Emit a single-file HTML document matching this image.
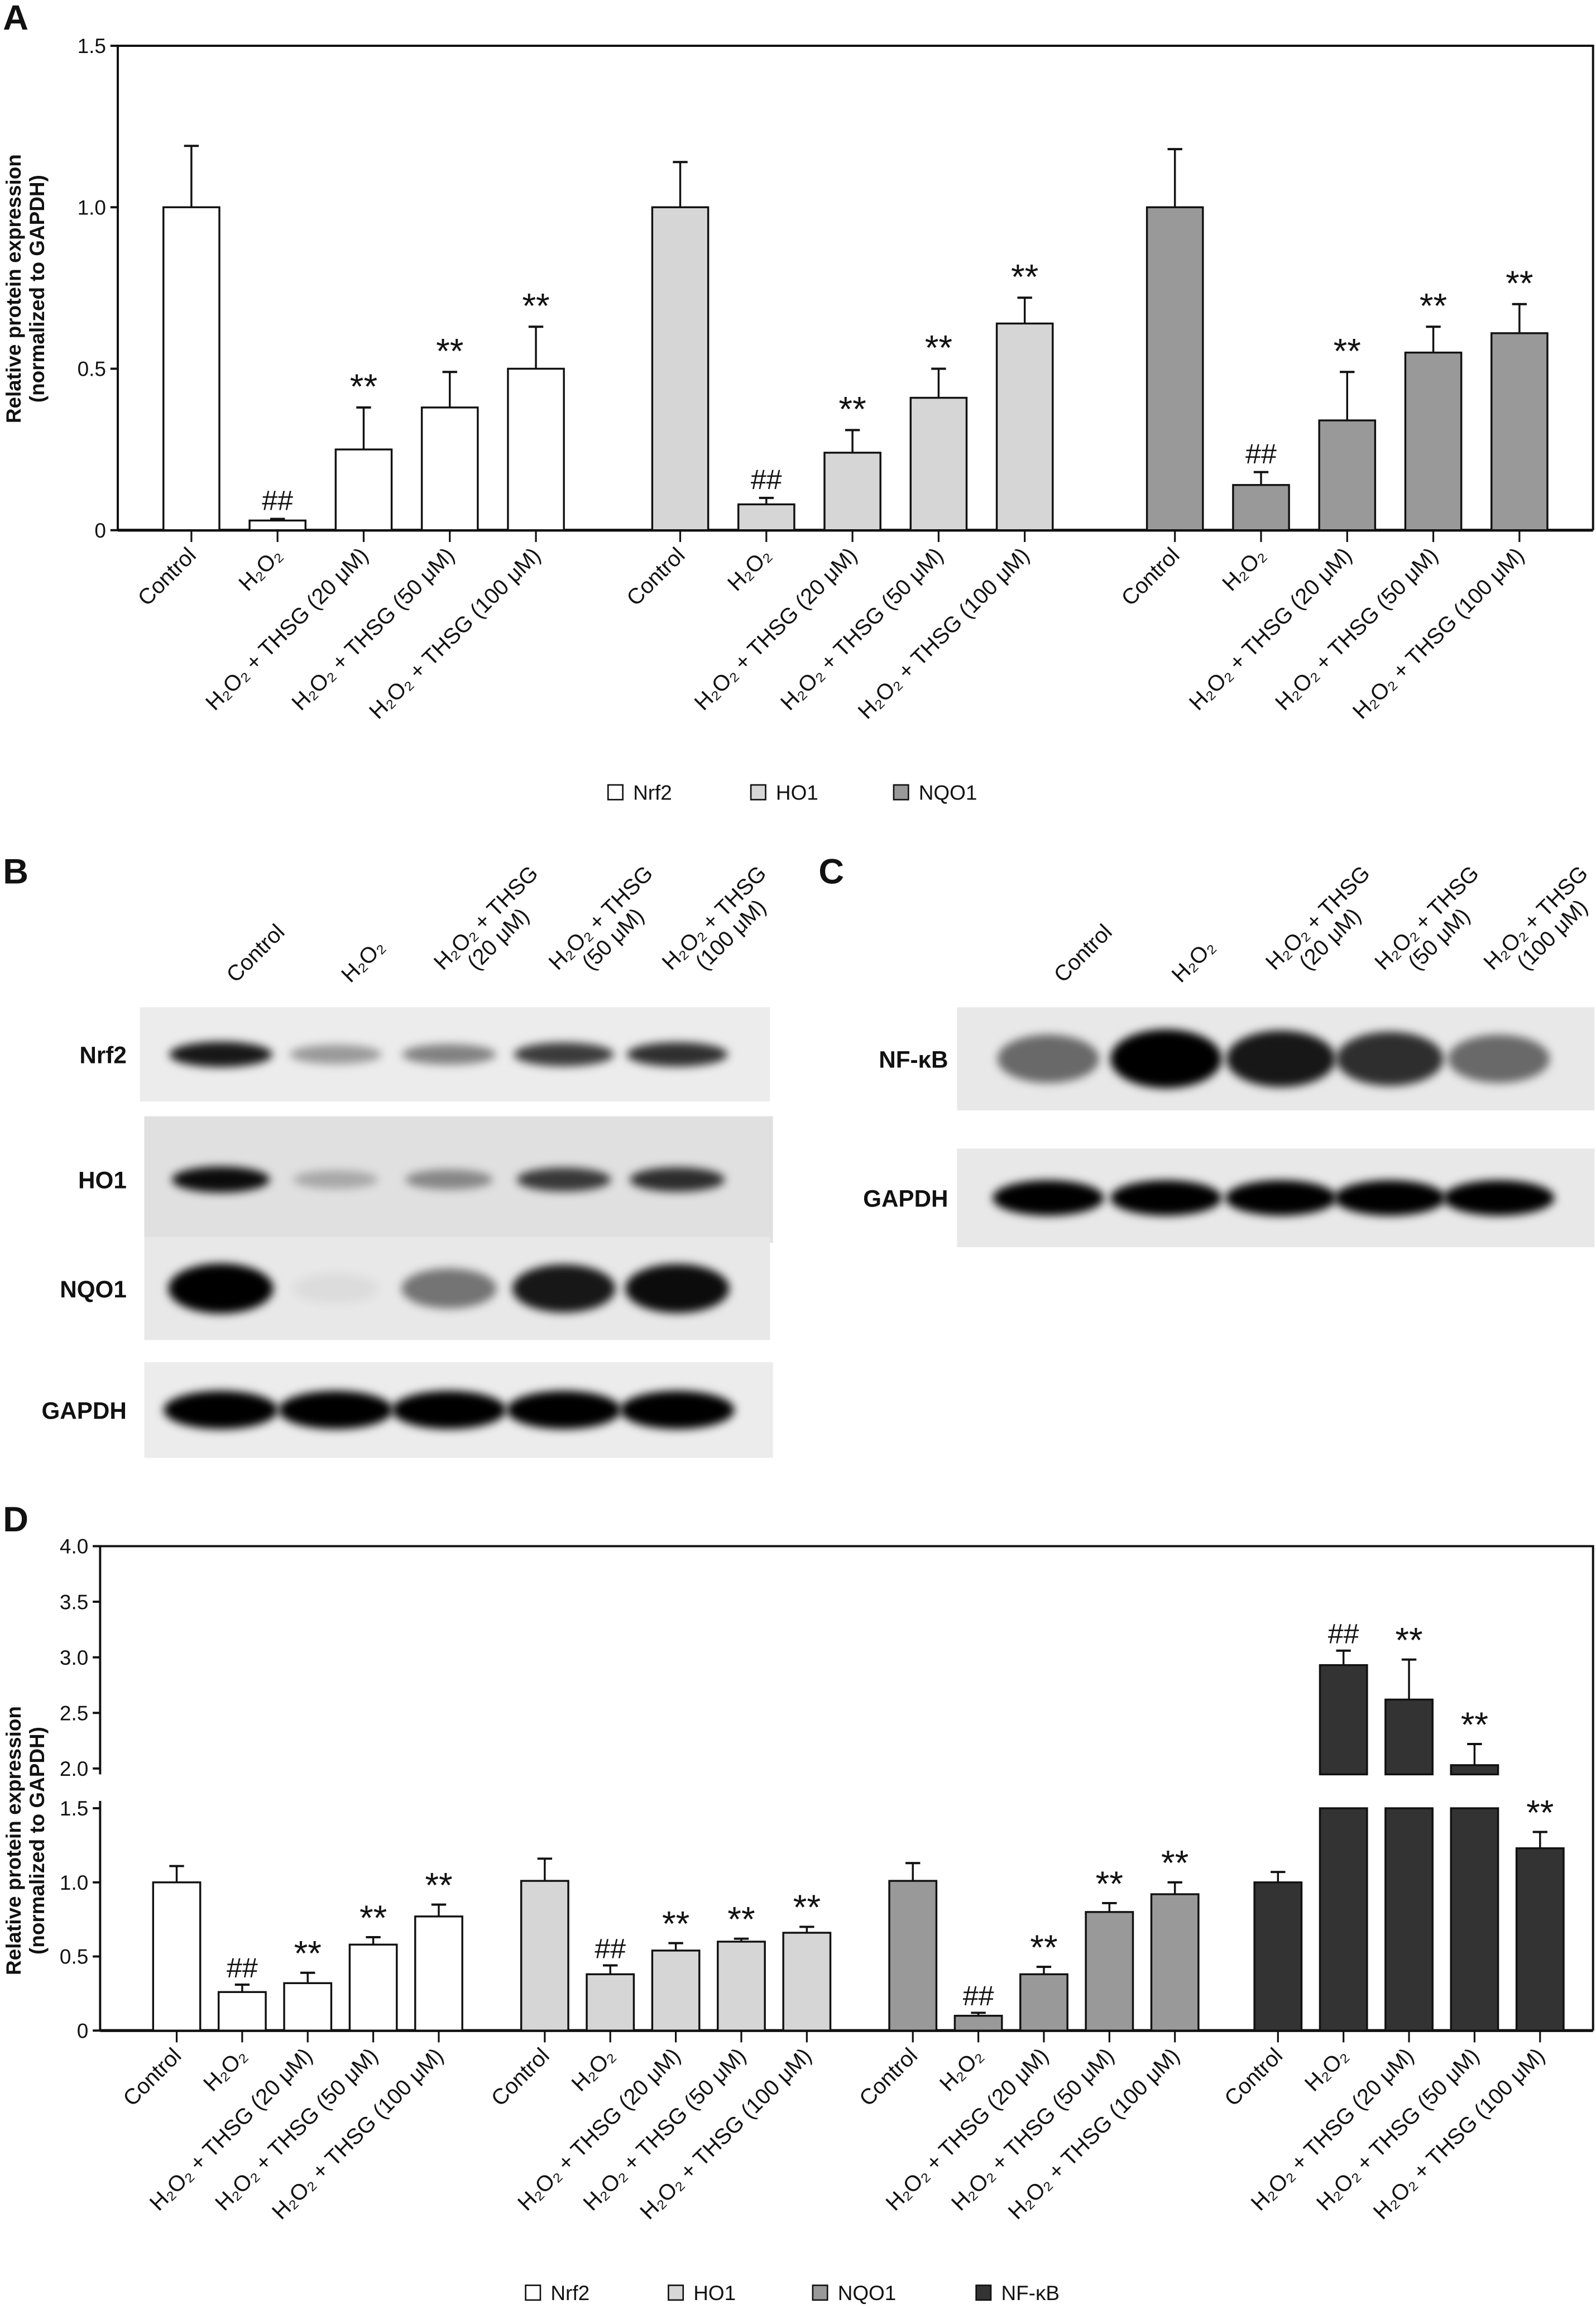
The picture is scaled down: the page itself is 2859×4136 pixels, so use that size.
<!DOCTYPE html>
<html><head><meta charset="utf-8"><style>
html,body{margin:0;padding:0;background:#fff}
svg{display:block}
text{font-family:"Liberation Sans Narrow","Liberation Sans",sans-serif;fill:#111}
</style></head><body>
<svg id="fig" width="2859" height="4136" viewBox="0 0 1084 1568" xmlns="http://www.w3.org/2000/svg">
<defs>
<filter id="blur2" x="-50%" y="-50%" width="200%" height="200%"><feGaussianBlur stdDeviation="3"/></filter>
</defs>
<g id="panelA"></g>
<g id="panelB"></g>
<g id="panelC"></g>
<g id="panelD"></g>
</svg>
<script>
// ---- data ----
const groupsA = ["Nrf2","HO1","NQO1"];
const conditions = ["Control","H₂O₂","H₂O₂ + THSG (20 μM)","H₂O₂ + THSG (50 μM)","H₂O₂ + THSG (100 μM)"];
const nrf2A = [1.0,0.03,0.25,0.38,0.50];
const nrf2AErr = [0.19,0.005,0.13,0.11,0.13];
const ho1A = [1.0,0.08,0.24,0.41,0.64];
const ho1AErr = [0.14,0.02,0.07,0.09,0.08];
const nqo1A = [1.0,0.14,0.34,0.55,0.61];
const nqo1AErr = [0.18,0.04,0.15,0.08,0.09];
const sigA = ["","##","**","**","**"];
const ticksA = [0,0.5,1.0,1.5];
const tickLabelsA = ["0","0.5","1.0","1.5"];

const groupsD = ["Nrf2","HO1","NQO1","NF-κB"];
const nrf2D = [1.0,0.26,0.32,0.58,0.77];
const nrf2DErr = [0.11,0.05,0.07,0.05,0.08];
const ho1D = [1.01,0.38,0.54,0.60,0.66];
const ho1DErr = [0.15,0.06,0.05,0.02,0.04];
const nqo1D = [1.01,0.10,0.38,0.80,0.92];
const nqo1DErr = [0.12,0.02,0.05,0.06,0.08];
const nfkbD = [1.0,2.93,2.62,2.03,1.23];
const nfkbDErr = [0.07,0.13,0.36,0.19,0.11];
const sigD = ["","##","**","**","**"];
const ticksDLow = [0,0.5,1.0,1.5];
const tickLabelsDLow = ["0","0.5","1.0","1.5"];
const ticksDHigh = [2.0,2.5,3.0,3.5,4.0];
const tickLabelsDHigh = ["2.0","2.5","3.0","3.5","4.0"];

const blotNrf2 = [0.9,0.35,0.45,0.75,0.8];
const blotHO1 = [0.95,0.25,0.4,0.75,0.8];
const blotNQO1 = [1.0,0.05,0.5,0.9,0.95];
const blotGAPDH = [1,1,1,1,1];
const blotNFkB = [0.55,1.0,0.9,0.8,0.55];
const blotGAPDHC = [1,1,1,1,1];

// ---- helpers ----
const NS="http://www.w3.org/2000/svg";
function mk(tag,attrs,parent){const e=document.createElementNS(NS,tag);for(const k in attrs)e.setAttribute(k,attrs[k]);parent.appendChild(e);return e;}
function txt(parent,x,y,s,size,anchor,extra){const t=mk("text",Object.assign({x:x,y:y,"font-size":size,"text-anchor":anchor||"start"},extra||{}),parent);t.textContent=s;return t;}

// ---- Panel A ----
(function(){
const g=document.getElementById("panelA");
const x0=80,x1=1082,yTop=31,yBot=360;
const y=v=>yBot-(v/1.5)*(yBot-yTop);
let l=txt(g,2,20,"A",24,"start",{"font-weight":"bold"});


let fr=mk("path",{d:`M${x0},${yBot} L${x0},${yTop} L${x1},${yTop} L${x1},${yBot}`,fill:"none",stroke:"#111","stroke-width":1.5},g);


let ax=mk("line",{x1:x0,y1:yBot,x2:x1,y2:yBot,stroke:"#111","stroke-width":2},g);


ticksA.forEach((t,i)=>{mk("line",{x1:x0-5,y1:y(t),x2:x0,y2:y(t),stroke:"#111","stroke-width":1.5},g);
 const tl=txt(g,x0-8,y(t)+5,tickLabelsA[i],14,"end");
 
 });
const yt=mk("text",{transform:"translate(14,196) rotate(-90)","font-size":14,"text-anchor":"middle","font-weight":"bold"},g);
yt.innerHTML='<tspan x="0" dy="0">Relative protein expression</tspan><tspan x="0" dy="16">(normalized to GAPDH)</tspan>';


const series=[nrf2A,ho1A,nqo1A],errs=[nrf2AErr,ho1AErr,nqo1AErr],fills=["#fff","#d6d6d6","#999"];
const starts=[130,462,798],step=58.5,bw=38;
series.forEach((s,gi)=>{s.forEach((v,i)=>{
 const cx=starts[gi]+i*step;
 const ey=y(v+errs[gi][i]);
 mk("line",{x1:cx,y1:y(v),x2:cx,y2:ey,stroke:"#111","stroke-width":1.3},g);
 mk("line",{x1:cx-5,y1:ey,x2:cx+5,y2:ey,stroke:"#111","stroke-width":1.5},g);
 const r=mk("rect",{x:cx-bw/2,y:y(v),width:bw,height:yBot-y(v),fill:fills[gi],stroke:"#111","stroke-width":1.3},g);
 
 
 if(sigA[i]){const st=txt(g,cx,ey-6,sigA[i],sigA[i]=="**"?24:19,"middle");}
 mk("line",{x1:cx,y1:yBot,x2:cx,y2:yBot+8,stroke:"#111","stroke-width":1.2},g);
 const lab=txt(g,cx+4,yBot+18,conditions[i],15,"end",{transform:`rotate(-45 ${cx+4} ${yBot+18})`});
 
 
});});
const lx=[418,515,612];
groupsA.forEach((n,i)=>{mk("rect",{x:lx[i]-5,y:533,width:10,height:10,fill:fills[i],stroke:"#111","stroke-width":1},g);
 const t=txt(g,lx[i]+12,543,n,14);});
})();

// ---- Blots ----
function blot(g,x,y,w,h,lanes,vals,label,labelX,bandW,bandH,bg,name){
 const box=mk("rect",{x:x,y:y,width:w,height:h,fill:bg},g);
 
 
 vals.forEach((v,i)=>{
  const b=mk("ellipse",{cx:lanes[i],cy:y+h/2,rx:bandW*(0.85+0.2*v),ry:bandH*(0.6+0.4*v),fill:"#000","fill-opacity":Math.max(0.05,v),filter:"url(#blur2)"},g);
  
  
 });
 const t=txt(g,labelX,y+h/2+6,label,16,"end",{"font-weight":"bold"});
 
 
}
function laneLabels(g,lanes,yb){
 const labs=[["Control"],["H₂O₂"],["H₂O₂ + THSG","(20 μM)"],["H₂O₂ + THSG","(50 μM)"],["H₂O₂ + THSG","(100 μM)"]];
 labs.forEach((ls,i)=>{const x=lanes[i]+10;const t=mk("text",{x:x,y:yb,"font-size":15,"text-anchor":"start",transform:`rotate(-45 ${x} ${yb})`},g);
  if(ls.length==1)t.textContent=ls[0];else t.innerHTML=`<tspan x="${x-4}" dy="-16">${ls[0]}</tspan><tspan x="${x+12}" dy="16">${ls[1]}</tspan>`;
  
  });
}
(function(){
const g=document.getElementById("panelB");
const l=txt(g,2,600,"B",24,"start",{"font-weight":"bold"});

const lanes=[150,228,305,383,460];
laneLabels(g,lanes,668);
blot(g,95,684,428,64,lanes,blotNrf2,"Nrf2",86,34,9,"#ececec","blot-nrf2");
blot(g,98,758,427,86,lanes,blotHO1,"HO1",86,32,9,"#e0e0e0","blot-ho1");
blot(g,98,840,425,70,lanes,blotNQO1,"NQO1",86,34,17,"#e8e8e8","blot-nqo1");
blot(g,98,925,427,65,lanes,blotGAPDH,"GAPDH",86,37,13,"#ececec","blot-gapdh-b");
})();
(function(){
const g=document.getElementById("panelC");
const l=txt(g,556,600,"C",24,"start",{"font-weight":"bold"});

const lanes=[712,792,870,944,1018];
laneLabels(g,lanes,668);
blot(g,650,684,433,70,lanes,blotNFkB,"NF-κB",644,36,20,"#e8e8e8","blot-nfkb");
blot(g,650,780,433,67,lanes,blotGAPDHC,"GAPDH",644,36,12,"#e8e8e8","blot-gapdh-c");
})();

// ---- Panel D ----
(function(){
const g=document.getElementById("panelD");
const x0=68,x1=1082,yBot=1379,yLowTop=1228,yHighBot=1201,yTop=1050;
const yL=v=>yBot-(v/1.5)*(yBot-yLowTop);
const yH=v=>yHighBot-((v-2)/2)*(yHighBot-yTop);
const y=v=>v<=1.5?yL(v):(v>=2?yH(v):yH(2));
const l=txt(g,2,1040,"D",24,"start",{"font-weight":"bold"});

let fr=mk("path",{d:`M${x0},${yHighBot+4} L${x0},${yTop} L${x1},${yTop} L${x1},${yBot}`,fill:"none",stroke:"#111","stroke-width":1.5},g);

let ax2=mk("line",{x1:x0,y1:yLowTop-5,x2:x0,y2:yBot,stroke:"#111","stroke-width":1.5},g);

let ax=mk("line",{x1:x0,y1:yBot,x2:x1,y2:yBot,stroke:"#111","stroke-width":2},g);

ticksDLow.forEach((t,i)=>{mk("line",{x1:x0-5,y1:yL(t),x2:x0,y2:yL(t),stroke:"#111","stroke-width":1.5},g);
 const tl=txt(g,x0-8,yL(t)+5,tickLabelsDLow[i],14,"end");});
ticksDHigh.forEach((t,i)=>{mk("line",{x1:x0-5,y1:yH(t),x2:x0,y2:yH(t),stroke:"#111","stroke-width":1.5},g);
 const tl=txt(g,x0-8,yH(t)+5,tickLabelsDHigh[i],14,"end");});
const yt=mk("text",{transform:"translate(14,1250) rotate(-90)","font-size":14,"text-anchor":"middle","font-weight":"bold"},g);
yt.innerHTML='<tspan x="0" dy="0">Relative protein expression</tspan><tspan x="0" dy="16">(normalized to GAPDH)</tspan>';

const series=[nrf2D,ho1D,nqo1D,nfkbD],errs=[nrf2DErr,ho1DErr,nqo1DErr,nfkbDErr],fills=["#fff","#d6d6d6","#999","#333"];
const starts=[120,370,620,868],step=44.5,bw=32;
series.forEach((s,gi)=>{s.forEach((v,i)=>{
 const cx=starts[gi]+i*step;
 const top=v+errs[gi][i];
 const ey=y(top);
 mk("line",{x1:cx,y1:y(v),x2:cx,y2:ey,stroke:"#111","stroke-width":1.3},g);
 mk("line",{x1:cx-5,y1:ey,x2:cx+5,y2:ey,stroke:"#111","stroke-width":1.5},g);
 if(v<=1.5){
  const r=mk("rect",{x:cx-bw/2,y:yL(v),width:bw,height:yBot-yL(v),fill:fills[gi],stroke:"#111","stroke-width":1.3},g);
  
 } else {
  const r=mk("rect",{x:cx-bw/2,y:yLowTop,width:bw,height:yBot-yLowTop,fill:fills[gi],stroke:"#111","stroke-width":1.3},g);
  
  const base=yH(2)+4;const yt2=y(v);
  const r2=mk("rect",{x:cx-bw/2,y:Math.min(yt2,base-1),width:bw,height:Math.max(1,base-yt2),fill:fills[gi],stroke:"#111","stroke-width":1.3},g);
  
 }
 if(sigD[i]){const st=txt(g,cx,ey-5,sigD[i],sigD[i]=="**"?24:19,"middle");}
 mk("line",{x1:cx,y1:yBot,x2:cx,y2:yBot+8,stroke:"#111","stroke-width":1.2},g);
 const lab=txt(g,cx+4,yBot+18,conditions[i],15,"end",{transform:`rotate(-45 ${cx+4} ${yBot+18})`});
 
});});
const lx=[362,459,557,668];
groupsD.forEach((n,i)=>{mk("rect",{x:lx[i]-5,y:1552,width:10,height:10,fill:fills[i],stroke:"#111","stroke-width":1},g);
 const t=txt(g,lx[i]+12,1562,n,14);});
})();
</script>
</body></html>
